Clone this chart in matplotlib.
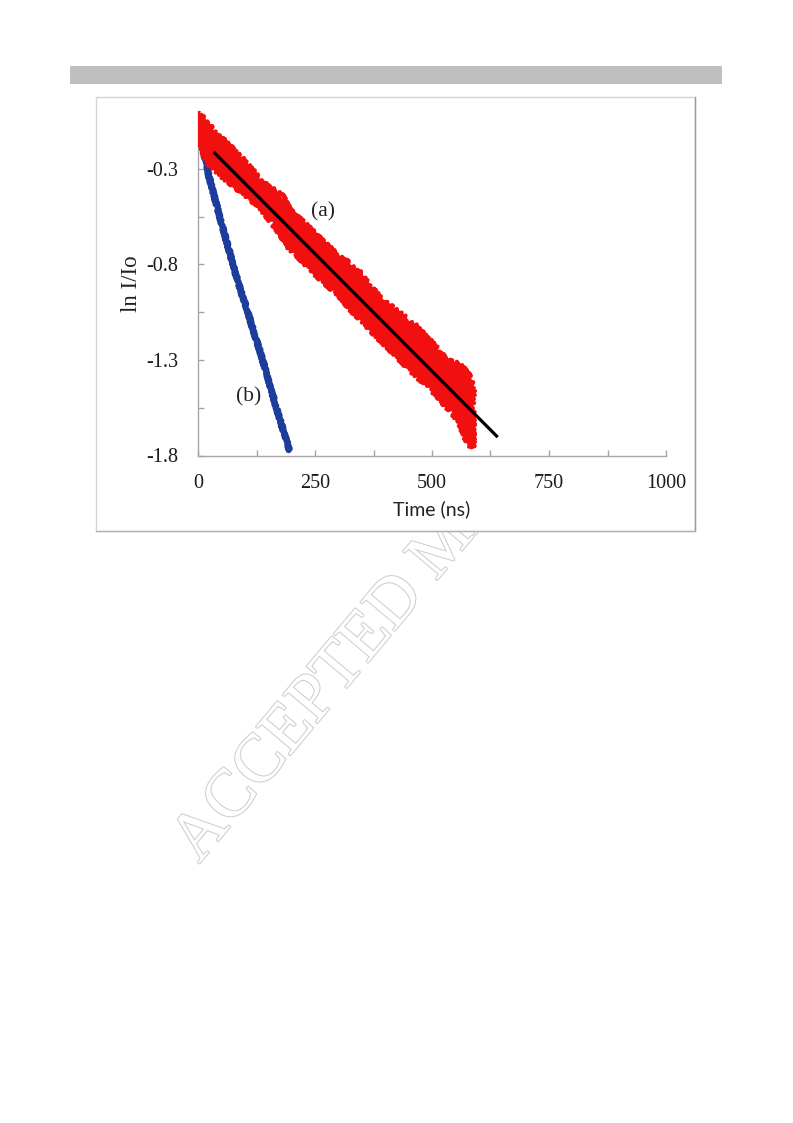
import matplotlib
matplotlib.use("Agg")
import matplotlib.pyplot as plt
from matplotlib.patches import Rectangle
from matplotlib.ticker import FixedLocator
from matplotlib.transforms import Bbox, TransformedBbox
import matplotlib.patheffects as pe

# ---------------- data ----------------
# (a) red measured cloud: upper and lower envelope of the scattered points
a_time = [0, 4, 15, 29, 65, 100, 136, 178, 196, 230, 267, 300, 338, 389, 420, 460, 500, 531, 560, 574, 580, 585]
a_upper = [-0.00, -0.02, -0.06, -0.096, -0.183, -0.270, -0.375, -0.445, -0.524, -0.600, -0.689, -0.760,
           -0.829, -0.986, -1.040, -1.117, -1.220, -1.309, -1.330, -1.370, -1.400, -1.450]
a_lower = [-0.10, -0.14, -0.22, -0.288, -0.358, -0.427, -0.500, -0.640, -0.707, -0.790, -0.881, -0.950,
           -1.060, -1.186, -1.260, -1.361, -1.450, -1.536, -1.620, -1.708, -1.730, -1.754]
# linear fit for (a)
fit_time = [36, 638]
fit_val = [-0.218, -1.698]
# (b) blue series
b_time = [0, 4, 24, 53, 81, 110, 138, 165, 195]
b_val = [-0.10, -0.122, -0.347, -0.609, -0.855, -1.08, -1.300, -1.53, -1.771]

x_major = [0, 250, 500, 750, 1000]
x_minor = [125, 375, 625, 875]
y_major = [-1.8, -1.3, -0.8, -0.3]
y_minor = [-1.55, -1.05, -0.55, -0.05]
y_ticklabels = ["-1.8", "-1.3", "-0.8", "-0.3"]

W, H = 793, 1123
fig = plt.figure(figsize=(W / 100, H / 100), dpi=100)
fig.patch.set_facecolor("white")


def px_rect(x0, y0, x1, y1, **kw):
    r = Rectangle((x0 / W, 1 - y1 / H), (x1 - x0) / W, (y1 - y0) / H,
                  transform=fig.transFigure, **kw)
    fig.add_artist(r)
    return r


# watermark (behind the chart frame, only visible below it)
wm = fig.text(199 / W, 1 - 864 / H, "ACCEPTED MANUSCRIPT", rotation=50, rotation_mode="anchor",
              ha="left", va="baseline", fontsize=49, family="Liberation Serif", color="white",
              zorder=0)
wm.set_path_effects([pe.Stroke(linewidth=1.5, foreground="#cecece"), pe.Normal()])
wm.set_clip_box(TransformedBbox(Bbox([[0, 0], [1, 1 - 531 / H]]), fig.transFigure))
wm.set_clip_on(True)

# header grey bar
px_rect(70, 66, 722, 84, facecolor="#bfbfbf", edgecolor="none", zorder=1)
# chart frame
px_rect(96, 97, 695, 531, facecolor="white", edgecolor="#d4d4d4", linewidth=1.0, zorder=1)
fig.add_artist(plt.Line2D([695 / W, 695 / W], [1 - 97 / H, 1 - 531 / H], transform=fig.transFigure,
                          color="#9a9a9a", lw=1.0, zorder=1))
fig.add_artist(plt.Line2D([96 / W, 695 / W], [1 - 531 / H, 1 - 531 / H], transform=fig.transFigure,
                          color="#b0b0b0", lw=1.0, zorder=1))

ax_left, ax_right, ax_top, ax_bottom = 198, 666, 111.5, 455.5
ax = fig.add_axes([ax_left / W, 1 - ax_bottom / H, (ax_right - ax_left) / W, (ax_bottom - ax_top) / H])
ax.set_zorder(2)
ax.patch.set_visible(False)

ax.set_xlim(0, 1000)
ax.set_ylim(-1.8, 0.0)

# blue (b)
blue_line, = ax.plot(b_time, b_val, color="#1c3d9c", lw=4.4, solid_capstyle="round", zorder=2)
blue_line.set_sketch_params(scale=1.0, length=2, randomness=2)

# red cloud (a)
red = "#f20f0f"
ax.fill_between(a_time, a_lower, a_upper, facecolor=red, edgecolor="none", zorder=3)
for env in (a_upper, a_lower):
    ln, = ax.plot(a_time, env, color=red, lw=3.0, zorder=3)
    ln.set_sketch_params(scale=3.0, length=2.0, randomness=3)
edge, = ax.plot([a_time[-1], a_time[-1]], [a_lower[-1], a_upper[-1]], color=red, lw=3.0, zorder=3)
edge.set_sketch_params(scale=3.0, length=2.0, randomness=3)
edge0, = ax.plot([a_time[0], a_time[0]], [a_lower[0], a_upper[0]], color=red, lw=2.0, zorder=3)

# fit line
ax.plot(fit_time, fit_val, color="black", lw=2.3, zorder=4)

serif = "Liberation Serif"
ax.text(267, -0.525, "(a)", fontsize=15.5, family=serif, ha="center", va="center", color="#222222")
ax.text(109, -1.494, "(b)", fontsize=15.5, family=serif, ha="center", va="center", color="#222222")

for s in ["top", "right"]:
    ax.spines[s].set_visible(False)
for s in ["left", "bottom"]:
    ax.spines[s].set_color("#a6a6a6")
    ax.spines[s].set_linewidth(1.0)

ax.xaxis.set_major_locator(FixedLocator(x_major))
ax.xaxis.set_minor_locator(FixedLocator(x_minor))
ax.yaxis.set_major_locator(FixedLocator(y_major))
ax.yaxis.set_minor_locator(FixedLocator(y_minor))
ax.set_yticklabels(y_ticklabels)
ax.tick_params(which="both", direction="in", length=4.5, width=1.0, color="#a6a6a6")
ax.tick_params(axis="y", which="major", pad=14, labelsize=14.5)
ax.tick_params(axis="x", which="major", pad=13.5, labelsize=14.5)
for lab in ax.get_xticklabels() + ax.get_yticklabels():
    lab.set_family(serif)
    lab.set_color("#1a1a1a")

ax.set_xlabel("Time (ns)", family="Lato", fontsize=14, color="#222222", labelpad=5)
ax.set_ylabel("ln I/Io", family=serif, fontsize=16.5, color="#222222", labelpad=3)

fig.savefig("out.png", dpi=100)
